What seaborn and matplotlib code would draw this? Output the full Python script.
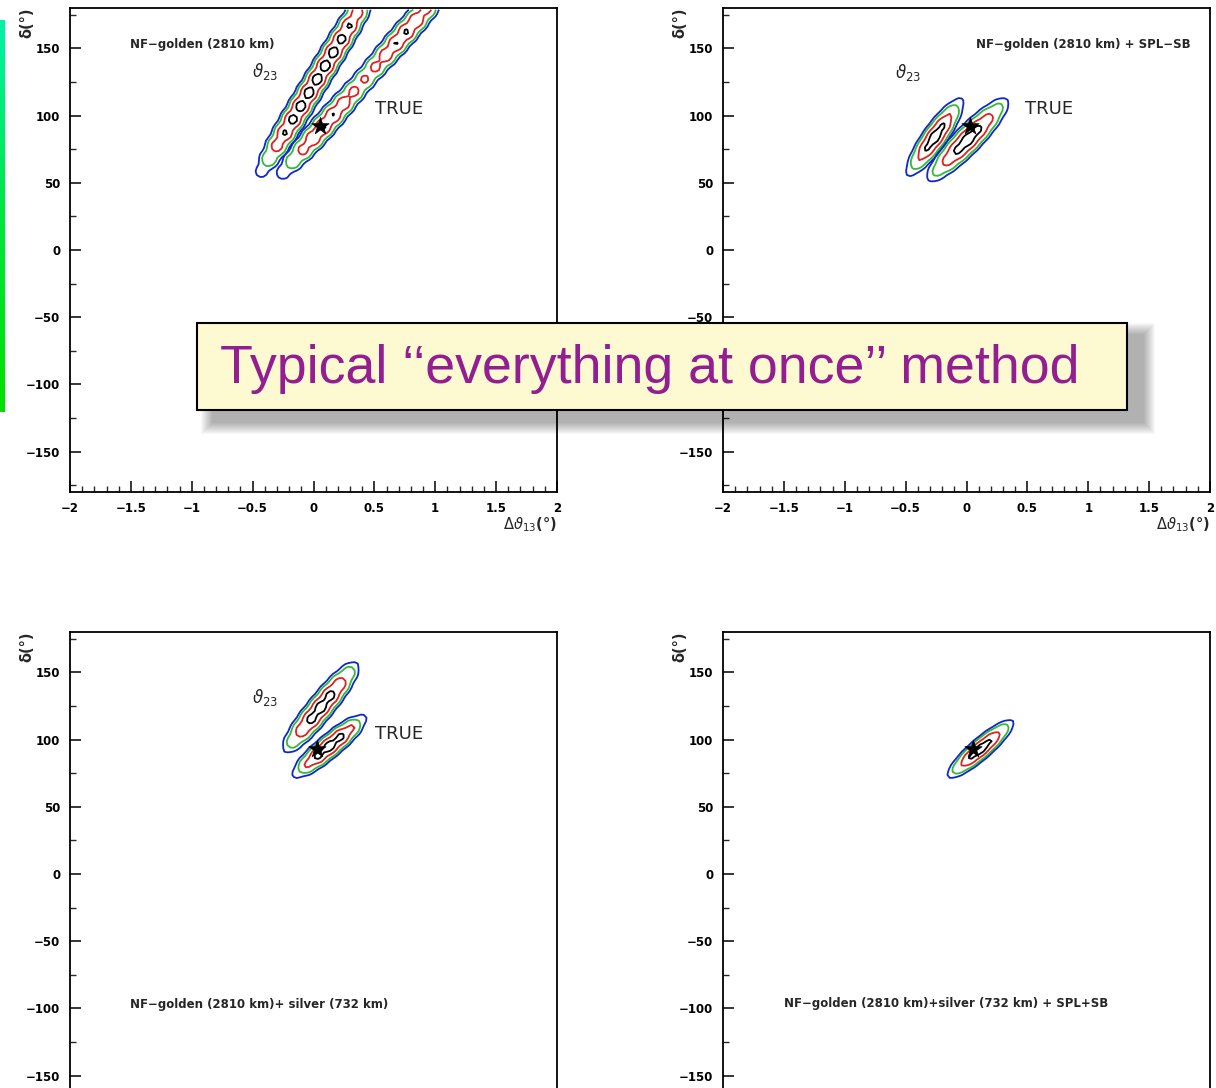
import numpy as np
import matplotlib
matplotlib.use("Agg")
import matplotlib.pyplot as plt
import seaborn as sns
from matplotlib.patches import Rectangle
from matplotlib.colors import LinearSegmentedColormap
from matplotlib.ticker import MultipleLocator, FixedLocator

# ---------------- data ----------------
panel_titles = [
    "NF\u2212golden (2810 km)",
    "NF\u2212golden (2810 km) + SPL\u2212SB",
    "NF\u2212golden (2810 km)+ silver (732 km)",
    "NF\u2212golden (2810 km)+silver (732 km) + SPL+SB",
]
# allowed regions (one ellipse-like chi2 valley each)
region_panel = [0, 0, 1, 1, 2, 2, 3]
region_cx = [0.03, 0.42, -0.26, 0.01, 0.06, 0.13, 0.115]     # delta theta13 (deg)
region_cy = [127, 127, 84, 82, 124, 95, 93]                   # delta (deg)
region_a = [0.95, 1.10, 0.39, 0.48, 0.49, 0.39, 0.36]         # semi-major (display units)
region_b = [0.112, 0.115, 0.105, 0.118, 0.112, 0.102, 0.09]   # semi-minor
region_angle = [59, 49, 55, 46, 51, 40, 41]                   # orientation (deg)
region_power = [4, 4, 2, 2, 2.5, 2.5, 2]
region_ripple = [0.15, 0.15, 0.06, 0.06, 0.10, 0.10, 0.05]
region_bump = [0.0, 0.30, 0.0, 0.0, 0.0, 0.0, 0.0]

cl_levels = [0.13, 0.38, 0.72, 1.0]
cl_colors = ["#000000", "#dd2222", "#33bb33", "#1028c8"]

true_x = [0.05, 0.03, 0.03, 0.05]
true_y = [92, 92, 93, 93]

x_ticks = [-2, -1.5, -1, -0.5, 0, 0.5, 1, 1.5, 2]
y_ticks = [-150, -100, -50, 0, 50, 100, 150]

# ---------------- style ----------------
sns.set_style("white")
plt.rcParams["font.family"] = ["DejaVu Sans"]
plt.rcParams["axes.unicode_minus"] = True

W, H = 1216, 1088
fig = plt.figure(figsize=(W / 100, H / 100), dpi=100)
fig.patch.set_facecolor("white")


def fx(px):
    return px / W


def fy(py):
    return 1 - py / H


ax_left = [70, 723]
ax_top = [8, 632]
ax_w, ax_h = 487, 484

# text annotation layout
theta_pos = {0: (-0.40, 133), 1: (-0.48, 132), 2: (-0.40, 131)}
truelab_pos = {0: (0.70, 105), 1: (0.68, 105), 2: (0.70, 104)}
title_pos = [(-1.51, 153, "left"), (1.84, 153, "right"), (-1.51, -97, "left"), (-1.50, -96, "left")]

xg = np.arange(-2 + 0.0125, 2, 0.025)
yg = np.arange(-180 + 1.25, 180, 2.5)
XX, YY = np.meshgrid(xg, yg)
SC = 90.0  # deg of delta per unit of delta theta13 on screen

for p in range(4):
    col, row = p % 2, p // 2
    L = ax_left[col]
    T = ax_top[row]
    ax = fig.add_axes([fx(L), fy(T + ax_h), fx(ax_w), ax_h / H])
    ax.set_xlim(-2, 2)
    ax.set_ylim(-180, 180)

    for k in range(len(region_panel)):
        if region_panel[k] != p:
            continue
        th = np.deg2rad(region_angle[k])
        dx = XX - region_cx[k]
        dy = (YY - region_cy[k]) / SC
        u = dx * np.cos(th) + dy * np.sin(th)
        v = -dx * np.sin(th) + dy * np.cos(th)
        a, b = region_a[k], region_b[k]
        q = np.abs(u / a) ** region_power[k] + (v / b) ** 2
        q = q + region_ripple[k] * (1 - np.cos(2 * np.pi * u / 0.13)) / 2
        q = q + region_bump[k] * np.exp(-(u / (0.33 * a)) ** 2)
        ax.contour(XX, YY, q, levels=cl_levels, colors=cl_colors, linewidths=1.3)

    sns.scatterplot(x=[true_x[p]], y=[true_y[p]], marker="*", s=170, color="black",
                    edgecolor="black", linewidth=0.5, ax=ax, zorder=5, legend=False)

    for s in ax.spines.values():
        s.set_linewidth(1.3)
        s.set_color("black")
        s.set_visible(True)
    ax.xaxis.set_major_locator(FixedLocator(x_ticks))
    ax.xaxis.set_minor_locator(MultipleLocator(0.1))
    ax.yaxis.set_major_locator(FixedLocator(y_ticks))
    ax.yaxis.set_minor_locator(FixedLocator([-175, -125, -75, -25, 25, 75, 125, 175]))
    ax.set_xticklabels([("%g" % t).replace("-", "\u2212") for t in x_ticks])
    ylabs = [("%g" % t).replace("-", "\u2212") for t in y_ticks]
    if p == 1:
        ylabs[1] = ""  # hidden behind the text box in the reference
    ax.set_yticklabels(ylabs)
    ax.tick_params(which="major", direction="in", length=8, width=1.1, labelsize=8.5, pad=7,
                   bottom=True, left=True, top=False, right=False, colors="black",
                   labelbottom=(row == 0))
    ax.tick_params(which="minor", direction="in", length=4, width=1.0,
                   bottom=True, left=True, top=False, right=False)
    for lab in ax.get_xticklabels() + ax.get_yticklabels():
        lab.set_fontweight("bold")
    ax.set_xlabel("")
    ax.set_ylabel("")

    ax.text(-43 / ax_w, 1 - 15 / ax_h, "\u03b4(\u00b0)", transform=ax.transAxes, rotation=90,
            ha="center", va="center", fontsize=10.5, fontweight="bold")
    if row == 0:
        ax.text(1.0, -33 / ax_h, r"$\Delta\vartheta_{13}$" + "(\u00b0)",
                transform=ax.transAxes, ha="right", va="center", fontsize=10.5,
                fontweight="bold")

    tx, ty, tha = title_pos[p]
    ax.text(tx, ty, panel_titles[p], ha=tha, va="center", fontsize=8.5, fontweight="bold")
    if p in theta_pos:
        ax.text(*theta_pos[p], r"$\vartheta_{23}$", ha="center", va="center", fontsize=12,
                fontweight="bold")
    if p in truelab_pos:
        ax.text(*truelab_pos[p], "TRUE", ha="center", va="center", fontsize=13)

# green bar at the left edge
gax = fig.add_axes([0, fy(412), fx(5), 392 / H])
cmap = LinearSegmentedColormap.from_list("g", ["#00f2a8", "#00e640", "#00e000"])
gax.imshow(np.linspace(0, 1, 100).reshape(-1, 1), aspect="auto", cmap=cmap)
gax.set_axis_off()

# text box with soft shadow
bx0, by0, bx1, by1 = 197, 323, 1127, 410
for i in range(12):
    e = 12 - i
    fig.patches.append(Rectangle((fx(bx0 + 16 - e), fy(by1 + 12 + e)),
                                 fx(bx1 - bx0 + 2 * e), (by1 - by0 + 2 * e) / H,
                                 transform=fig.transFigure, facecolor="black",
                                 edgecolor="none", alpha=0.028, zorder=10))
fig.patches.append(Rectangle((fx(bx0), fy(by1)), fx(bx1 - bx0), (by1 - by0) / H,
                             transform=fig.transFigure, facecolor="#fdf9d0",
                             edgecolor="black", linewidth=1.5, zorder=11))
fig.text(fx(220), fy(369), "Typical \u2018\u2018everything at once\u2019\u2019 method",
         ha="left", va="center", fontsize=38.7, color="#921e92",
         family=["Liberation Sans", "DejaVu Sans"], zorder=12)

fig.savefig("out.png", dpi=100)
